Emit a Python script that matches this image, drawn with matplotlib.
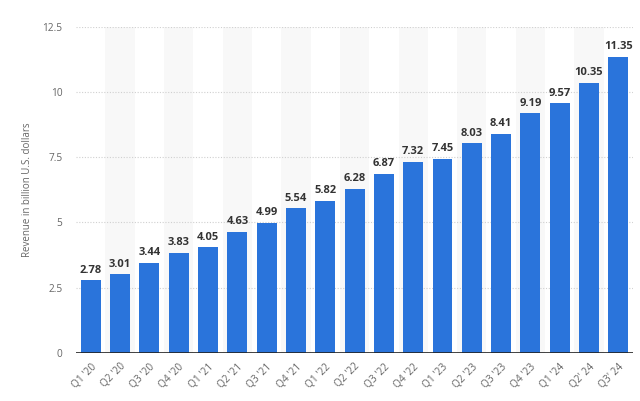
import matplotlib
matplotlib.use("Agg")
import matplotlib.pyplot as plt
from matplotlib.ticker import FuncFormatter

quarters = ["Q1 '20", "Q2 '20", "Q3 '20", "Q4 '20",
            "Q1 '21", "Q2 '21", "Q3 '21", "Q4 '21",
            "Q1 '22", "Q2 '22", "Q3 '22", "Q4 '22",
            "Q1 '23", "Q2 '23", "Q3 '23", "Q4 '23",
            "Q1 '24", "Q2' 24", "Q3' 24"]
revenue = [2.78, 3.01, 3.44, 3.83, 4.05, 4.63, 4.99, 5.54, 5.82, 6.28,
           6.87, 7.32, 7.45, 8.03, 8.41, 9.19, 9.57, 10.35, 11.35]
y_ticks = [0, 2.5, 5, 7.5, 10, 12.5]

plt.rcParams["font.family"] = ["Open Sans", "DejaVu Sans"]

fig = plt.figure(figsize=(6.4, 4.01), dpi=100)
ax = fig.add_axes([0.119, 0.12, 0.870, 0.813])

x = list(range(len(quarters)))

# light alternating column bands
for i in x:
    if i % 2 == 1:
        ax.axvspan(i - 0.5, i + 0.5, color="#f8f8f8", zorder=0, lw=0)

for yt in y_ticks[1:]:
    ax.axhline(yt, color="#d0d0d0", ls=(0, (1, 1.5)), lw=0.8, zorder=1)

bars = ax.bar(x, revenue, width=0.68, color="#2a74db", zorder=2)
for xi, v in zip(x, revenue):
    ax.text(xi, v + 0.18, f"{v:.2f}", ha="center", va="bottom",
            fontsize=8, fontweight="bold", color="#333333")

ax.axhline(0, color="#222222", lw=1.2, zorder=3)

ax.set_xlim(-0.5, len(quarters) - 0.5)
ax.set_ylim(0, 12.5)
ax.set_yticks(y_ticks)
ax.yaxis.set_major_formatter(FuncFormatter(lambda v, p: f"{v:g}"))
ax.set_xticks(x)
ax.set_xticklabels(quarters, rotation=45, ha="right", rotation_mode="anchor")
ax.tick_params(axis="both", length=0, labelsize=7.3, colors="#666666")
ax.tick_params(axis="x", pad=6)
ax.tick_params(axis="y", pad=10)

for s in ax.spines.values():
    s.set_visible(False)

ax.set_ylabel("Revenue in billion U.S. dollars", fontsize=7, color="#666666",
              labelpad=7)

fig.savefig("out.png", dpi=100)
